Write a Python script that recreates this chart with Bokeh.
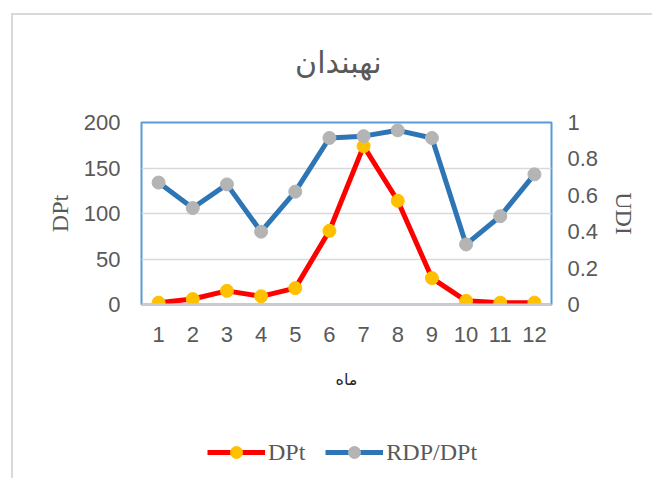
from bokeh.plotting import figure
from bokeh.layouts import column
from bokeh.models import (Range1d, LinearAxis, FixedTicker, Legend, LegendItem, Label,
                          CustomJSTickFormatter)
from bokeh.embed import file_html
from bokeh.resources import INLINE

# ---- data ----
months = [1, 2, 3, 4, 5, 6, 7, 8, 9, 10, 11, 12]
dpt = [2, 6, 15, 9, 18, 81, 174, 114, 29, 4, 2, 2]
udi = [0.67, 0.53, 0.66, 0.40, 0.62, 0.915, 0.925, 0.957, 0.915, 0.33, 0.485, 0.715]
left_ticks = [0, 50, 100, 150, 200]
right_ticks = [0, 0.2, 0.4, 0.6, 0.8, 1]
title_text = "نهبندان"
x_title = "ماه"
left_title = "DPt"
right_title = "UDI"
series_names = ["DPt", "RDP/DPt"]
no_data = [float("nan")]   # legend-only renderers draw nothing

GRAY_TXT = "#595959"
SANS = "Liberation Sans"
SERIF = "Liberation Serif"
RED, YELLOW, BLUE, GREY = "#FF0000", "#FFC000", "#2E75B6", "#B4B4B4"


def strip(height):
    f = figure(width=639, height=height, output_backend="svg", toolbar_location=None,
               x_range=Range1d(0, 1), y_range=Range1d(0, 1),
               x_axis_type=None, y_axis_type=None, min_border=0)
    f.outline_line_color = None
    f.background_fill_color = "white"
    f.border_fill_color = "white"
    f.grid.visible = False
    return f


# ---- title strip ----
tf = strip(80)
tf.add_layout(Label(x=0.48, y=0.41, text=title_text, text_align="center",
                    text_baseline="middle", text_font="DejaVu Sans",
                    text_font_size="30px", text_color=GRAY_TXT))

# ---- main chart ----
p = figure(width=639, height=335, output_backend="svg", toolbar_location=None,
           x_range=Range1d(0.5, 12.5), y_range=Range1d(0, 200),
           min_border_left=128, min_border_right=101, min_border_top=27,
           min_border_bottom=126)
p.extra_y_ranges = {"udi": Range1d(0, 1)}

p.outline_line_color = "#5B9BD5"
p.outline_line_width = 2
p.background_fill_color = "white"
p.border_fill_color = "white"

p.xgrid.grid_line_color = None
p.ygrid.ticker = FixedTicker(ticks=[50, 100, 150])
p.ygrid.grid_line_color = "#D9D9D9"
p.ygrid.grid_line_width = 1.5

# x axis
xa = p.xaxis[0]
xa.ticker = FixedTicker(ticks=months)
xa.axis_line_color = "#C9CDD3"
xa.axis_line_width = 2
xa.major_tick_line_color = None
xa.major_tick_out = 0
xa.minor_tick_line_color = None
xa.major_label_text_font = SANS
xa.major_label_text_font_size = "22px"
xa.major_label_text_color = GRAY_TXT
xa.major_label_standoff = 22
xa.axis_label = x_title
xa.axis_label_text_font = "DejaVu Sans"
xa.axis_label_text_font_size = "16px"
xa.axis_label_text_font_style = "normal"
xa.axis_label_text_color = "#262626"
xa.axis_label_standoff = 25

# left axis
ya = p.yaxis[0]
ya.ticker = FixedTicker(ticks=left_ticks)
ya.axis_line_color = None
ya.major_tick_line_color = None
ya.major_tick_out = 0
ya.minor_tick_line_color = None
ya.major_label_text_font = SANS
ya.major_label_text_font_size = "22px"
ya.major_label_text_color = GRAY_TXT
ya.major_label_standoff = 21
ya.axis_label = left_title
ya.axis_label_text_font = SERIF
ya.axis_label_text_font_size = "24px"
ya.axis_label_text_font_style = "normal"
ya.axis_label_text_color = GRAY_TXT
ya.axis_label_standoff = 8

# right axis
ra = LinearAxis(y_range_name="udi")
ra.ticker = FixedTicker(ticks=right_ticks)
ra.formatter = CustomJSTickFormatter(code="return String(Math.round(tick*10)/10);")
ra.axis_line_color = None
ra.major_tick_line_color = None
ra.major_tick_out = 0
ra.minor_tick_line_color = None
ra.major_label_text_font = SANS
ra.major_label_text_font_size = "22px"
ra.major_label_text_color = GRAY_TXT
ra.major_label_standoff = 16
ra.axis_label = right_title
ra.axis_label_text_font = SERIF
ra.axis_label_text_font_size = "24px"
ra.axis_label_text_font_style = "normal"
ra.axis_label_text_color = GRAY_TXT
ra.axis_label_standoff = 10
p.add_layout(ra, "right")

# series
r1 = p.line(months, dpt, line_color=RED, line_width=5)
s1 = p.scatter(months, dpt, size=13, fill_color=YELLOW, line_color=YELLOW)
r2 = p.line(months, udi, y_range_name="udi", line_color=BLUE, line_width=5)
s2 = p.scatter(months, udi, y_range_name="udi", size=13, fill_color=GREY,
               line_color=GREY)

# ---- legend strip ----
lg = strip(48)
k1 = lg.line(no_data, no_data, line_color=RED, line_width=5)
k1m = lg.scatter(no_data, no_data, size=13, fill_color=YELLOW, line_color=YELLOW)
k2 = lg.line(no_data, no_data, line_color=BLUE, line_width=5)
k2m = lg.scatter(no_data, no_data, size=13, fill_color=GREY, line_color=GREY)

legend = Legend(items=[LegendItem(label=series_names[0], renderers=[k1, k1m]),
                       LegendItem(label=series_names[1], renderers=[k2, k2m])],
                location=(66, 11), orientation="horizontal",
                glyph_width=58, glyph_height=30, label_standoff=3, spacing=20,
                padding=0, margin=0, border_line_color=None,
                background_fill_alpha=0,
                label_text_font=SERIF, label_text_font_size="24px",
                label_text_color=GRAY_TXT)
lg.add_layout(legend)

page = column(tf, p, lg, spacing=0)
page.styles = {"margin-left": "11px", "margin-top": "13px",
               "border-left": "2px solid #D9D9D9", "border-top": "2px solid #D9D9D9"}

open("out.html", "w").write(file_html(page, INLINE))
